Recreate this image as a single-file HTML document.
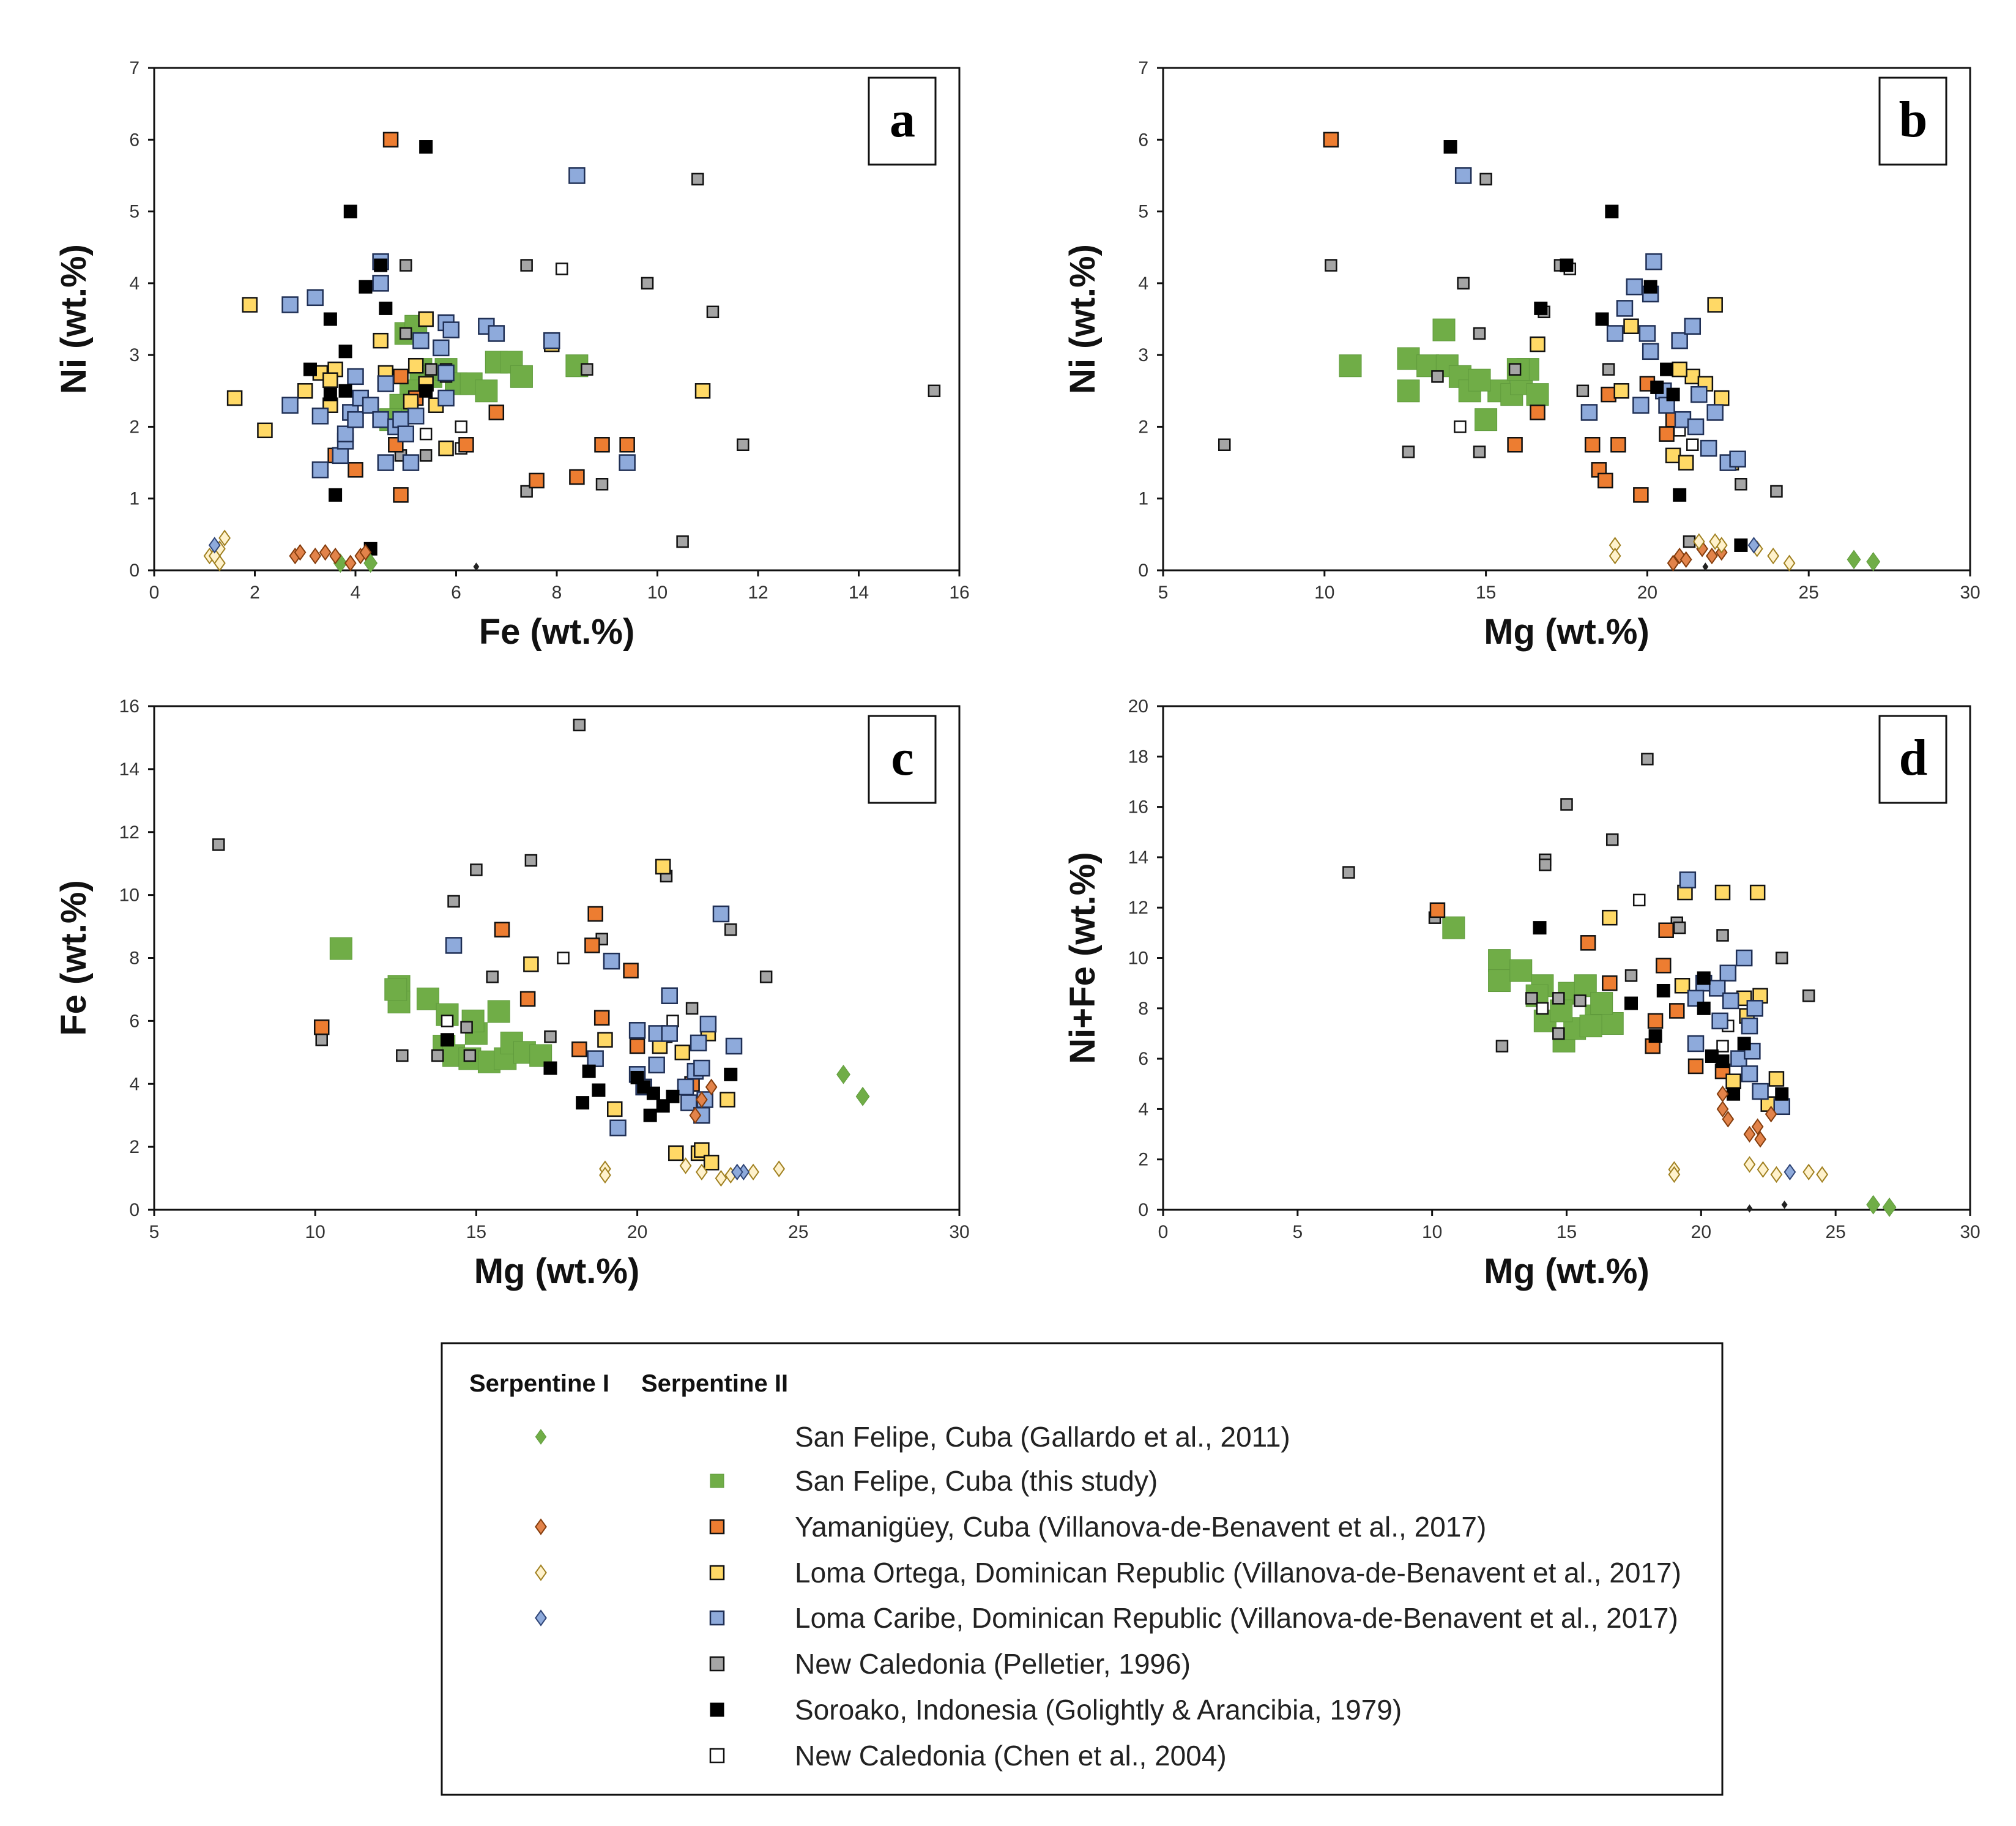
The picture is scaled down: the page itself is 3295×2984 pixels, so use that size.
<!DOCTYPE html>
<html><head><meta charset="utf-8">
<style>
html,body{margin:0;padding:0;background:#fff;}
svg{display:block;}
.tick{font-family:"Liberation Sans",sans-serif;font-size:30px;fill:#333;}
.title{font-family:"Liberation Sans",sans-serif;font-size:58px;font-weight:bold;fill:#111;}
.letter{font-family:"Liberation Serif",serif;font-size:84px;font-weight:bold;fill:#000;}
.leg{font-family:"Liberation Sans",sans-serif;font-size:46px;fill:#222;}
.legh{font-family:"Liberation Sans",sans-serif;font-size:40px;font-weight:bold;fill:#111;}
</style></head>
<body>
<svg id="chart" width="3295" height="2984" viewBox="0 0 3295 2984" xmlns="http://www.w3.org/2000/svg">
<rect width="3295" height="2984" fill="#fff"/>
<g id="legend">
<rect x="722" y="2195" width="2093" height="738" fill="none" stroke="#111" stroke-width="3"/>
<text class="legh" x="767" y="2274">Serpentine I</text>
<text class="legh" x="1048" y="2274">Serpentine II</text>
</g>
</svg>
<script>
const panelAGreenSq=[[5.0,3.3],[5.3,2.8],[5.1,2.5],[4.9,2.3],[5.5,2.7],[5.8,2.8],[6.0,2.6],[6.3,2.6],[6.6,2.5],[6.8,2.9],[7.1,2.9],[7.3,2.7],[8.4,2.85],[4.7,2.1],[5.2,3.4]];
const panelAGreenDi=[[3.7,0.1],[4.3,0.1]];
const panelAOrangeSq=[[4.7,6.0],[6.8,2.2],[3.6,1.6],[4.0,1.4],[4.8,1.75],[4.9,1.05],[6.2,1.75],[7.6,1.25],[8.4,1.3],[8.9,1.75],[9.4,1.75],[4.9,2.7],[5.2,2.4]];
const panelAOrangeDi=[[2.8,0.2],[2.9,0.25],[3.2,0.2],[3.4,0.25],[3.6,0.2],[3.9,0.1],[4.1,0.2],[4.2,0.25]];
const panelAYellowSq=[[1.9,3.7],[1.6,2.4],[2.2,1.95],[3.0,2.5],[3.3,2.75],[3.6,2.8],[3.5,2.65],[3.5,2.3],[4.5,3.2],[5.4,3.5],[5.2,2.85],[4.6,2.75],[5.6,2.3],[5.8,1.7],[7.9,3.15],[10.9,2.5],[5.1,2.35],[5.4,2.6]];
const panelAYellowDi=[[1.1,0.2],[1.3,0.3],[1.4,0.45],[1.3,0.1],[1.2,0.2]];
const panelABlueSq=[[2.7,3.7],[3.2,3.8],[2.7,2.3],[3.3,2.15],[3.3,1.4],[3.7,1.6],[3.8,1.8],[3.8,1.9],[3.9,2.2],[4.0,2.1],[4.0,2.7],[4.1,2.4],[4.3,2.3],[4.5,4.3],[4.5,4.0],[4.6,2.6],[4.5,2.1],[4.6,1.5],[4.8,2.0],[4.9,2.1],[5.0,1.9],[5.1,1.5],[5.2,2.15],[5.3,3.2],[5.7,3.1],[5.8,3.45],[5.9,3.35],[6.6,3.4],[6.8,3.3],[5.8,2.4],[7.9,3.2],[8.4,5.5],[9.4,1.5],[5.8,2.75]];
const panelABlueDi=[[1.2,0.35]];
const panelAGraySq=[[5.0,4.25],[5.0,3.3],[5.8,2.8],[4.9,1.6],[5.4,1.6],[7.4,4.25],[7.4,1.1],[8.6,2.8],[8.9,1.2],[9.8,4.0],[10.8,5.45],[11.1,3.6],[11.7,1.75],[10.5,0.4],[15.5,2.5],[5.5,2.8]];
const panelABlackSq=[[5.4,5.9],[3.9,5.0],[4.5,4.25],[4.2,3.95],[4.6,3.65],[3.5,3.5],[3.8,3.05],[3.1,2.8],[3.5,2.45],[3.8,2.5],[5.4,2.5],[3.6,1.05],[4.3,0.3]];
const panelABlackDi=[[6.4,0.05]];
const panelAWhiteSq=[[8.1,4.2],[6.1,2.0],[5.4,1.9],[6.1,1.7],[5.8,2.7]];

const panelBGreenSq=[[10.8,2.85],[12.6,2.95],[12.6,2.5],[13.7,3.35],[13.2,2.85],[13.8,2.85],[14.2,2.7],[14.5,2.5],[15.0,2.1],[15.4,2.5],[15.8,2.45],[16.1,2.6],[16.3,2.8],[16.6,2.45],[16.0,2.8],[14.8,2.65]];
const panelBGreenDi=[[26.4,0.15],[27.0,0.12]];
const panelBOrangeSq=[[10.2,6.0],[16.6,2.2],[18.8,2.45],[20.0,2.6],[19.8,1.05],[18.3,1.75],[19.1,1.75],[18.5,1.4],[18.7,1.25],[15.9,1.75],[20.8,2.1],[20.6,1.9]];
const panelBOrangeDi=[[20.8,0.1],[21.0,0.2],[21.7,0.3],[22.0,0.2],[22.3,0.25],[21.2,0.15]];
const panelBYellowSq=[[22.1,3.7],[19.5,3.4],[16.6,3.15],[19.2,2.5],[21.4,2.7],[21.8,2.6],[22.3,2.4],[20.8,1.6],[21.2,1.5],[22.6,1.5],[21.0,2.8]];
const panelBYellowDi=[[19.0,0.35],[19.0,0.2],[21.6,0.4],[22.3,0.35],[23.4,0.3],[23.9,0.2],[24.4,0.1],[22.1,0.4]];
const panelBBlueSq=[[14.3,5.5],[20.2,4.3],[19.6,3.95],[20.1,3.85],[19.3,3.65],[19.0,3.3],[20.0,3.3],[20.1,3.05],[21.0,3.2],[21.4,3.4],[20.5,2.5],[20.6,2.3],[21.1,2.1],[21.5,2.0],[22.1,2.2],[22.5,1.5],[22.8,1.55],[21.9,1.7],[21.6,2.45],[18.2,2.2],[19.8,2.3]];
const panelBBlueDi=[[23.3,0.35]];
const panelBGraySq=[[10.2,4.25],[14.3,4.0],[15.0,5.45],[6.9,1.75],[12.6,1.65],[14.8,1.65],[13.5,2.7],[14.8,3.3],[15.9,2.8],[16.8,3.6],[17.3,4.25],[18.0,2.5],[18.8,2.8],[22.9,1.2],[24.0,1.1],[21.3,0.4],[20.9,2.8]];
const panelBBlackSq=[[13.9,5.9],[18.9,5.0],[17.5,4.25],[20.1,3.95],[16.7,3.65],[18.6,3.5],[20.3,2.55],[20.8,2.45],[21.0,1.05],[22.9,0.35],[20.6,2.8]];
const panelBBlackDi=[[21.8,0.05]];
const panelBWhiteSq=[[17.6,4.2],[14.2,2.0],[21.4,1.75],[21.0,1.95]];

const panelCGreenSq=[[10.8,8.3],[12.6,7.1],[12.6,6.6],[13.5,6.7],[14.0,5.2],[14.3,4.9],[14.8,4.8],[15.0,5.6],[15.4,4.7],[15.9,4.8],[16.1,5.3],[16.5,5.0],[17.0,4.9],[15.7,6.3],[14.9,6.0],[12.5,7.0],[14.1,6.2]];
const panelCGreenDi=[[26.4,4.3],[27.0,3.6]];
const panelCOrangeSq=[[10.2,5.8],[15.8,8.9],[18.7,9.4],[18.6,8.4],[19.8,7.6],[16.6,6.7],[18.9,6.1],[18.2,5.1],[21.7,4.0],[20.0,5.2]];
const panelCOrangeDi=[[22.0,3.5],[22.3,3.9],[21.8,3.0]];
const panelCYellowSq=[[20.8,10.9],[16.7,7.8],[19.0,5.4],[19.3,3.2],[21.2,1.8],[21.9,1.8],[22.0,1.9],[22.3,1.5],[22.8,3.5],[21.4,5.0],[22.2,5.6],[20.7,5.2]];
const panelCYellowDi=[[19.0,1.3],[19.0,1.1],[21.5,1.4],[22.0,1.2],[22.6,1.0],[23.6,1.2],[24.4,1.3],[22.9,1.1]];
const panelCBlueSq=[[14.3,8.4],[19.2,7.9],[22.6,9.4],[21.0,6.8],[22.2,5.9],[23.0,5.2],[20.0,5.7],[20.6,5.6],[21.0,5.6],[21.9,5.3],[20.0,4.3],[20.2,3.9],[20.6,4.6],[21.8,4.4],[21.6,3.4],[22.1,3.5],[22.0,3.0],[19.4,2.6],[18.7,4.8],[21.5,3.9],[22.0,4.5]];
const panelCBlueDi=[[23.3,1.2],[23.1,1.2]];
const panelCGraySq=[[7.0,11.6],[18.2,15.4],[15.0,10.8],[16.7,11.1],[14.3,9.8],[18.9,8.6],[20.9,10.6],[22.9,8.9],[24.0,7.4],[15.5,7.4],[17.3,5.5],[10.2,5.4],[12.7,4.9],[13.8,4.9],[14.8,4.9],[14.7,5.8],[21.7,6.4]];
const panelCBlackSq=[[14.1,5.4],[17.3,4.5],[18.5,4.4],[18.8,3.8],[18.3,3.4],[20.4,3.0],[20.2,3.9],[20.8,3.3],[20.0,4.2],[21.1,3.6],[22.9,4.3],[20.5,3.7]];
const panelCBlackDi=[];
const panelCWhiteSq=[[14.1,6.0],[17.7,8.0],[21.1,6.0],[20.9,5.5]];

const panelDGreenSq=[[10.8,11.2],[12.5,9.9],[12.5,9.1],[13.3,9.5],[14.1,8.9],[13.9,8.5],[15.1,8.6],[15.7,8.9],[14.2,7.5],[14.9,6.7],[15.3,7.2],[16.1,7.7],[16.7,7.4],[16.3,8.2],[14.8,7.9],[15.9,7.3]];
const panelDGreenDi=[[26.4,0.2],[27.0,0.1]];
const panelDOrangeSq=[[10.2,11.9],[15.8,10.6],[18.7,11.1],[18.6,9.7],[16.6,9.0],[19.1,7.9],[18.3,7.5],[18.2,6.5],[19.8,5.7],[20.8,5.5]];
const panelDOrangeDi=[[20.8,4.0],[21.0,3.6],[21.8,3.0],[22.1,3.3],[22.2,2.8],[20.8,4.6],[22.6,3.8]];
const panelDYellowSq=[[19.4,12.6],[20.8,12.6],[22.1,12.6],[16.6,11.6],[19.3,8.9],[22.2,8.5],[21.6,8.4],[22.8,5.2],[21.2,5.1],[22.5,4.2],[21.7,7.7]];
const panelDYellowDi=[[19.0,1.6],[19.0,1.4],[21.8,1.8],[22.3,1.6],[22.8,1.4],[24.0,1.5],[24.5,1.4]];
const panelDBlueSq=[[19.5,13.1],[21.6,10.0],[21.0,9.4],[20.1,9.0],[20.6,8.8],[19.8,8.4],[21.1,8.3],[22.0,8.0],[20.7,7.5],[21.8,7.3],[19.8,6.6],[21.4,6.0],[21.9,6.3],[21.8,5.4],[22.2,4.7],[23.0,4.1]];
const panelDBlueDi=[[23.3,1.5]];
const panelDGraySq=[[6.9,13.4],[18.0,17.9],[15.0,16.1],[16.7,14.7],[14.2,13.9],[14.2,13.7],[10.1,11.6],[19.1,11.4],[19.2,11.2],[20.8,10.9],[23.0,10.0],[17.4,9.3],[24.0,8.5],[13.7,8.4],[14.7,8.4],[15.5,8.3],[12.6,6.5],[14.7,7.0]];
const panelDBlackSq=[[14.0,11.2],[17.4,8.2],[18.6,8.7],[20.1,9.2],[20.1,8.0],[18.3,6.9],[20.4,6.1],[20.8,5.9],[21.2,4.6],[23.0,4.6],[21.6,6.6]];
const panelDBlackDi=[[21.8,0.05],[23.1,0.2]];
const panelDWhiteSq=[[17.7,12.3],[14.1,8.0],[21.0,7.3],[20.8,6.5]];

const panelAXTicks=[0,2,4,6,8,10,12,14,16];
const panelAYTicks=[0,1,2,3,4,5,6,7];
const panelBXTicks=[5,10,15,20,25,30];
const panelCYTicks=[0,2,4,6,8,10,12,14,16];
const panelDXTicks=[0,5,10,15,20,25,30];
const panelDYTicks=[0,2,4,6,8,10,12,14,16,18,20];
const legendLabels=["San Felipe, Cuba (Gallardo et al., 2011)","San Felipe, Cuba (this study)","Yamanigüey, Cuba (Villanova-de-Benavent et al., 2017)","Loma Ortega, Dominican Republic (Villanova-de-Benavent et al., 2017)","Loma Caribe, Dominican Republic (Villanova-de-Benavent et al., 2017)","New Caledonia (Pelletier, 1996)","Soroako, Indonesia (Golightly & Arancibia, 1979)","New Caledonia (Chen et al., 2004)"];

const NS="http://www.w3.org/2000/svg";
const svg=document.getElementById('chart');
function mk(tag,attrs,parent){const e=document.createElementNS(NS,tag);for(const k in attrs)e.setAttribute(k,attrs[k]);(parent||svg).appendChild(e);return e;}
const STY={
 greenSq:{shape:'sq',size:36,fill:'#70ad47',stroke:'#5f9a3c',sw:1},
 greenDi:{shape:'di',size:30,fill:'#70ad47',stroke:'#5f9a3c',sw:1},
 orangeSq:{shape:'sq',size:23,fill:'#ed7d31',stroke:'#111',sw:2.5},
 orangeDi:{shape:'di',size:24,fill:'#e2834a',stroke:'#843c0c',sw:2},
 yellowSq:{shape:'sq',size:23,fill:'#ffd966',stroke:'#111',sw:2.5},
 yellowDi:{shape:'di',size:24,fill:'#fff2cc',stroke:'#a08020',sw:2},
 blueSq:{shape:'sq',size:25,fill:'#8eaadb',stroke:'#1f2f55',sw:2.5},
 blueDi:{shape:'di',size:24,fill:'#8eaadb',stroke:'#2f4577',sw:2},
 graySq:{shape:'sq',size:18,fill:'#a5a5a5',stroke:'#111',sw:2.5},
 blackSq:{shape:'sq',size:21,fill:'#000',stroke:'#000',sw:1},
 blackDi:{shape:'di',size:12,fill:'#222',stroke:'#222',sw:1},
 whiteSq:{shape:'sq',size:18,fill:'#fff',stroke:'#111',sw:2.5}
};
function marker(g,cx,cy,s,name){
 let e;
 if(s.shape==='sq'){e=mk('rect',{x:cx-s.size/2,y:cy-s.size/2,width:s.size,height:s.size,fill:s.fill,stroke:s.stroke,'stroke-width':s.sw},g);}
 else{const h=s.size/2,w=s.size*0.36;e=mk('polygon',{points:`${cx},${cy-h} ${cx+w},${cy} ${cx},${cy+h} ${cx-w},${cy}`,fill:s.fill,stroke:s.stroke,'stroke-width':s.sw},g);}
 
 
 return e;
}
function panel(cfg){
 const g=mk('g',{});
 
 
 const {x0,x1,y0,y1,xmin,xmax,ymin,ymax}=cfg;
 const sx=v=>x0+(v-xmin)/(xmax-xmin)*(x1-x0);
 const sy=v=>y1-(v-ymin)/(ymax-ymin)*(y1-y0);
 const frame=mk('rect',{x:x0,y:y0,width:x1-x0,height:y1-y0,fill:'none',stroke:'#111','stroke-width':3},g);
 
 
 cfg.xt.forEach(t=>{const X=sx(t);mk('line',{x1:X,x2:X,y1:y1,y2:y1+10,stroke:'#111','stroke-width':3},g);
  const tx=mk('text',{x:X,y:y1+46,'text-anchor':'middle',class:'tick'},g);tx.textContent=t;
  
  });
 cfg.yt.forEach(t=>{const Y=sy(t);mk('line',{x1:x0-10,x2:x0,y1:Y,y2:Y,stroke:'#111','stroke-width':3},g);
  const tx=mk('text',{x:x0-24,y:Y+10,'text-anchor':'end',class:'tick'},g);tx.textContent=t;
  
  });
 const xt=mk('text',{x:(x0+x1)/2,y:y1+120,'text-anchor':'middle',class:'title'},g);xt.textContent=cfg.xTitle;
 
 
 const yc=(y0+y1)/2, yx=x0-112;
 const yt=mk('text',{x:yx,y:yc,'text-anchor':'middle',class:'title',transform:`rotate(-90 ${yx} ${yc})`},g);yt.textContent=cfg.yTitle;
 
 
 const lb=mk('rect',{x:x1-148,y:y0+16,width:109,height:142,fill:'#fff',stroke:'#111','stroke-width':3},g);
 
 
 const lt=mk('text',{x:x1-93,y:y0+112,'text-anchor':'middle',class:'letter'},g);lt.textContent=cfg.letter;
 
 
 cfg.series.forEach(([key,data])=>{data.forEach(p=>marker(g,sx(p[0]),sy(p[1]),STY[key],'point-'+key));});
}
function S(p){return [['greenSq',p.GreenSq],['graySq',p.GraySq],['whiteSq',p.WhiteSq],['orangeSq',p.OrangeSq],['yellowSq',p.YellowSq],['blueSq',p.BlueSq],['blackSq',p.BlackSq],['greenDi',p.GreenDi],['orangeDi',p.OrangeDi],['yellowDi',p.YellowDi],['blueDi',p.BlueDi],['blackDi',p.BlackDi]];}
panel({letter:'a',x0:252,x1:1568,y0:111,y1:932,xmin:0,xmax:16,ymin:0,ymax:7,xt:panelAXTicks,yt:panelAYTicks,xTitle:'Fe (wt.%)',yTitle:'Ni (wt.%)',
 series:S({GreenSq:panelAGreenSq,GraySq:panelAGraySq,WhiteSq:panelAWhiteSq,OrangeSq:panelAOrangeSq,YellowSq:panelAYellowSq,BlueSq:panelABlueSq,BlackSq:panelABlackSq,GreenDi:panelAGreenDi,OrangeDi:panelAOrangeDi,YellowDi:panelAYellowDi,BlueDi:panelABlueDi,BlackDi:panelABlackDi})});
panel({letter:'b',x0:1901,x1:3220,y0:111,y1:932,xmin:5,xmax:30,ymin:0,ymax:7,xt:panelBXTicks,yt:panelAYTicks,xTitle:'Mg (wt.%)',yTitle:'Ni (wt.%)',
 series:S({GreenSq:panelBGreenSq,GraySq:panelBGraySq,WhiteSq:panelBWhiteSq,OrangeSq:panelBOrangeSq,YellowSq:panelBYellowSq,BlueSq:panelBBlueSq,BlackSq:panelBBlackSq,GreenDi:panelBGreenDi,OrangeDi:panelBOrangeDi,YellowDi:panelBYellowDi,BlueDi:panelBBlueDi,BlackDi:panelBBlackDi})});
panel({letter:'c',x0:252,x1:1568,y0:1154,y1:1977,xmin:5,xmax:30,ymin:0,ymax:16,xt:panelBXTicks,yt:panelCYTicks,xTitle:'Mg (wt.%)',yTitle:'Fe (wt.%)',
 series:S({GreenSq:panelCGreenSq,GraySq:panelCGraySq,WhiteSq:panelCWhiteSq,OrangeSq:panelCOrangeSq,YellowSq:panelCYellowSq,BlueSq:panelCBlueSq,BlackSq:panelCBlackSq,GreenDi:panelCGreenDi,OrangeDi:panelCOrangeDi,YellowDi:panelCYellowDi,BlueDi:panelCBlueDi,BlackDi:panelCBlackDi})});
panel({letter:'d',x0:1901,x1:3220,y0:1154,y1:1977,xmin:0,xmax:30,ymin:0,ymax:20,xt:panelDXTicks,yt:panelDYTicks,xTitle:'Mg (wt.%)',yTitle:'Ni+Fe (wt.%)',
 series:S({GreenSq:panelDGreenSq,GraySq:panelDGraySq,WhiteSq:panelDWhiteSq,OrangeSq:panelDOrangeSq,YellowSq:panelDYellowSq,BlueSq:panelDBlueSq,BlackSq:panelDBlackSq,GreenDi:panelDGreenDi,OrangeDi:panelDOrangeDi,YellowDi:panelDYellowDi,BlueDi:panelDBlueDi,BlackDi:panelDBlackDi})});

const lg=document.getElementById('legend');
const legRows=[2348,2420,2495,2570,2644,2719,2794,2869];
const legDi=['greenDi',null,'orangeDi','yellowDi','blueDi',null,null,null];
const legSq=[null,'greenSq','orangeSq','yellowSq','blueSq','graySq','blackSq','whiteSq'];
legendLabels.forEach((lab,i)=>{
 const y=legRows[i];
 if(legDi[i]){const s=Object.assign({},STY[legDi[i]],{size:24});marker(lg,884,y,s,'legend-diamond-'+i);}
 if(legSq[i]){const s=Object.assign({},STY[legSq[i]],{size:22});marker(lg,1172,y,s,'legend-square-'+i);}
 const t=mk('text',{x:1299,y:y+16,class:'leg'},lg);t.textContent=lab;
 
 
});
</script>
</body></html>
